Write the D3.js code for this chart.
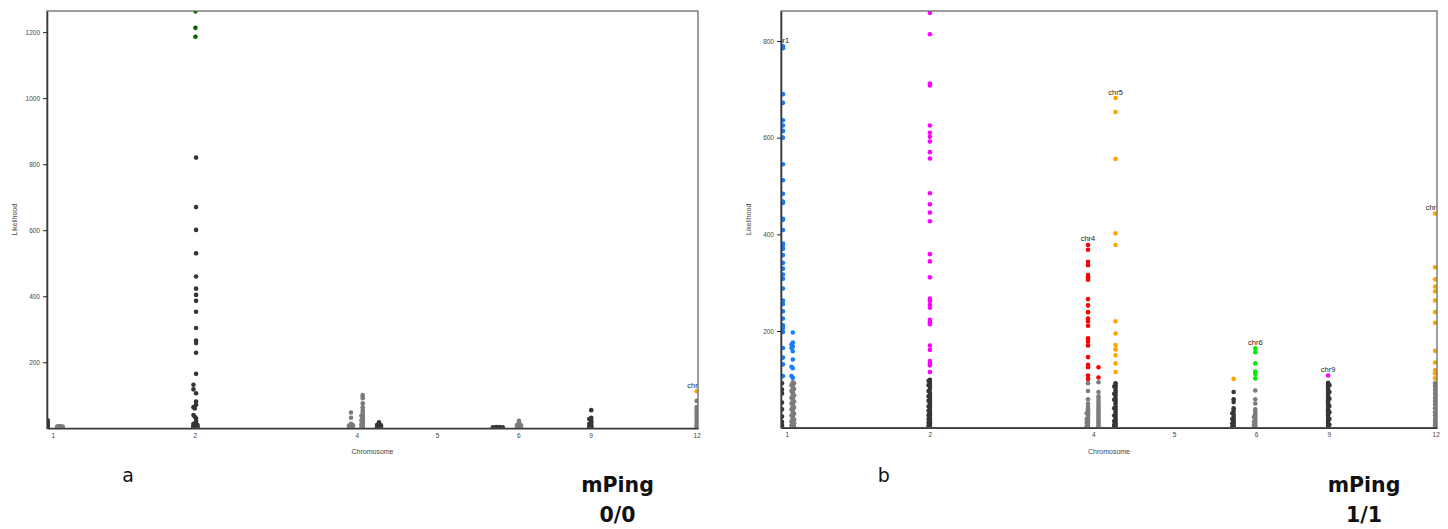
<!DOCTYPE html>
<html>
<head>
<meta charset="utf-8">
<script src="https://cdn.jsdelivr.net/npm/d3@7"></script>
<style>
  body { margin: 0; background: #fff; }
  svg { display: block; font-family: 'Liberation Sans', Arial, sans-serif; }
</style>
</head>
<body>
<svg id="chart" width="1448" height="529"></svg>
<script>
// Chromosome tick labels and their position along the genome axis (0-100)
const chromLabels = ['1', '2', '4', '5', '6', '9', '12'];
const chromTicks = [0.9, 22.7, 47.6, 59.9, 72.4, 83.5, 99.8];

// Each cluster: [genome position, [likelihood values]]
// Panel a - mPing 0/0
const aDark = [
  [0.1, [24, 18, 12, 8, 5, 3, 1, 0]],
  [22.9, [820, 670, 601, 530, 460, 423, 404, 386, 353, 304, 266, 258, 229, 165, 106, 81, 71, 30, 22, 15, 10, 6, 3, 1]],
  [22.5, [132, 118, 64, 40, 14, 8, 4, 2, 0]],
  [22.7, [60, 35, 12, 7, 3, 0]],
  [23.1, [10, 6, 3, 1]],
  [51.0, [18, 12, 8, 5, 2, 0]],
  [50.7, [10, 4, 1]],
  [51.3, [9, 3, 0]],
  [68.5, [3, 1]],
  [69.0, [4, 2, 0]],
  [69.5, [4, 1, 0]],
  [70.0, [3, 0]],
  [83.6, [55, 32, 25, 20, 16, 10, 6, 3, 0]],
  [83.3, [28, 14, 5, 1]],
];
const aLight = [
  [1.6, [6, 3, 1]],
  [2.0, [7, 4, 1]],
  [2.4, [5, 2, 0]],
  [46.7, [48, 32, 14, 10, 6, 3, 1]],
  [46.4, [8, 4, 1]],
  [47.0, [9, 4, 1]],
  [48.5, [101, 97, 91, 76, 64, 56, 50, 44, 40, 35, 30, 27, 22, 18, 14, 10, 6, 3, 1]],
  [48.3, [38, 24, 12, 4]],
  [72.5, [23, 18, 14, 10, 6, 3, 1]],
  [72.2, [10, 5, 1]],
  [72.8, [9, 4, 1]],
  [99.8, [83, 64, 58, 50, 44, 38, 32, 26, 20, 14, 9, 5, 2]],
];
const aGreen = [[22.8, [1263, 1213, 1186]]];
const aOrange = [[99.8, [112]]];
const aLabelText = ['chr12'];
const aLabelAt = [[99.8, 112]];

// Panel b - mPing 1/1
const bDark = [
  [0.15, [92, 79, 71, 52, 38, 23, 12, 5, 0]],
  [22.7, [99, 95, 91, 86, 80, 72, 68, 63, 58, 54, 50, 46, 42, 37, 33, 29, 25, 21, 17, 13, 9, 6, 3, 0]],
  [22.5, [97, 88, 76, 65, 56, 44, 35, 26, 18, 10, 4, 1]],
  [51.0, [92, 88, 83, 77, 72, 66, 60, 55, 50, 44, 38, 33, 28, 22, 17, 12, 8, 4, 1]],
  [50.8, [85, 70, 58, 40, 25, 14, 6, 2]],
  [69.0, [74, 59, 53, 40, 35, 28, 22, 17, 12, 8, 4, 1]],
  [68.8, [30, 18, 9, 3, 0]],
  [83.4, [93, 89, 85, 80, 76, 71, 66, 62, 57, 52, 48, 43, 38, 34, 29, 25, 20, 16, 12, 8, 4, 1]],
  [83.6, [88, 74, 60, 45, 32, 18, 6]],
];
const bLight = [
  [1.8, [94, 90, 86, 82, 78, 73, 69, 65, 61, 57, 52, 48, 44, 40, 35, 31, 27, 23, 19, 15, 11, 7, 3, 0]],
  [1.6, [88, 76, 62, 50, 38, 25, 13, 5]],
  [2.0, [92, 80, 67, 54, 42, 29, 17, 9, 2]],
  [46.8, [92, 76, 59, 50, 45, 40, 36, 32, 28, 24, 20, 16, 12, 8, 4, 1]],
  [46.6, [30, 18, 10, 3]],
  [48.4, [94, 74, 65, 60, 55, 50, 45, 41, 37, 33, 29, 25, 21, 17, 13, 9, 5, 2]],
  [72.3, [77, 59, 50, 38, 33, 28, 24, 20, 16, 12, 8, 4, 1]],
  [72.1, [22, 12, 5]],
  [99.7, [92, 86, 78, 70, 62, 55, 48, 40, 32, 25, 18, 12, 6, 2]],
];
const bBlue = [
  [0.3, [789, 785, 690, 672, 636, 625, 614, 600, 545, 512, 484, 468, 465, 432, 430, 409, 381, 377, 370, 357, 341, 329, 317, 308, 288, 263, 256, 241, 226, 212, 206, 198, 165, 145, 131, 107]],
  [1.8, [197, 176, 168, 158, 141, 123, 103]],
  [1.6, [172, 165, 126, 107]],
];
const bMagenta = [
  [22.7, [858, 814, 712, 708, 625, 610, 602, 592, 570, 557, 485, 462, 445, 427, 359, 344, 311, 267, 262, 255, 248, 223, 218, 214, 170, 161, 138, 134, 129, 115]],
  [83.4, [108]],
];
const bRed = [
  [46.8, [378, 368, 343, 336, 316, 311, 306, 266, 253, 239, 226, 220, 211, 185, 178, 170, 146, 130, 125, 108, 101]],
  [48.4, [125, 104]],
];
const bOrange = [
  [51.0, [682, 653, 556, 402, 378, 220, 195, 171, 162, 150, 133, 115]],
  [69.0, [101]],
  [99.7, [443, 332, 307, 292, 282, 263, 239, 217, 159, 135, 119, 112, 102]],
];
const bGreen = [[72.3, [164, 156, 133, 116, 111, 102]]];
const bLabelText = ['chr1', 'chr4', 'chr5', 'chr6', 'chr9', 'chr12'];
const bLabelAt = [[0.15, 789], [46.8, 378], [51.0, 682], [72.3, 164], [83.4, 108], [99.7, 443]];

const aTicks = [200, 400, 600, 800, 1000, 1200];
const bTicks = [200, 400, 600, 800];

const colors = {
  dark: '#353535',
  light: '#7c7c7c',
  green: '#006400',
  blue: '#1a7dff',
  magenta: '#ff00ff',
  red: '#ff0000',
  orange: '#ffa500',
  lime: '#00ee00',
};

const flatten = (clusters) => clusters.flatMap(([x, ys]) => ys.map((v) => ({ x, v })));

const svg = d3.select('#chart');

function drawPanel(p) {
  const g = svg.append('g');

  // Create scales
  const x = d3.scaleLinear().domain([0, 100]).range([p.left, p.right]);
  const y = d3.scaleLinear().domain([0, p.yMax]).range([p.bottom, p.top]);

  g.append('clipPath')
    .attr('id', `clip-${p.id}`)
    .append('rect')
    .attr('x', p.left)
    .attr('y', p.top)
    .attr('width', p.right - p.left)
    .attr('height', p.bottom - p.top);

  const plot = g.append('g').attr('clip-path', `url(#clip-${p.id})`);

  // Add points, grey first so coloured ones sit on top
  p.series.forEach((s) => {
    plot
      .selectAll(null)
      .data(flatten(s.data))
      .enter()
      .append('circle')
      .attr('cx', (d) => x(d.x))
      .attr('cy', (d) => y(d.v))
      .attr('r', 2.3)
      .style('fill', s.color);
  });

  // Chromosome labels above the top point of each peak
  plot
    .selectAll(null)
    .data(p.labelAt)
    .enter()
    .append('text')
    .attr('x', (d) => x(d[0]))
    .attr('y', (d) => y(d[1]) - 3.5)
    .attr('text-anchor', 'middle')
    .style('font-size', '7.5px')
    .style('fill', '#222')
    .text((d, i) => p.labelText[i]);

  // Frame
  g.append('rect')
    .attr('x', p.left)
    .attr('y', p.top)
    .attr('width', p.right - p.left)
    .attr('height', p.bottom - p.top)
    .style('fill', 'none')
    .style('stroke', '#6a6a6a')
    .style('stroke-width', 1.3);

  // Add axes
  const yAxis = d3
    .axisLeft(y)
    .tickValues(p.yTicks)
    .tickFormat(d3.format('d'))
    .tickSizeInner(4)
    .tickSizeOuter(0)
    .tickPadding(3);
  const ya = g.append('g').attr('transform', `translate(${p.left},0)`).call(yAxis);
  ya.select('.domain').style('stroke', '#3a3a3a').style('stroke-width', 1.6);
  ya.selectAll('.tick line').style('stroke', '#222');
  ya.selectAll('.tick text')
    .style('font-family', "'Liberation Sans', Arial, sans-serif")
    .style('font-size', '6.5px')
    .style('fill', '#444');

  const xAxis = d3
    .axisBottom(x)
    .tickValues(chromTicks)
    .tickFormat((d, i) => chromLabels[i])
    .tickSize(0)
    .tickPadding(5);
  const xa = g.append('g').attr('transform', `translate(0,${p.bottom})`).call(xAxis);
  xa.select('.domain').style('stroke', '#3a3a3a').style('stroke-width', 1.6);
  xa.selectAll('.tick text')
    .style('font-family', "'Liberation Sans', Arial, sans-serif")
    .style('font-size', '6.5px')
    .style('fill', '#444');

  // Axis titles
  g.append('text')
    .attr('transform', `translate(${p.left - 32},${(p.top + p.bottom) / 2}) rotate(-90)`)
    .attr('text-anchor', 'middle')
    .attr('dy', '0.35em')
    .style('font-size', '7px')
    .style('fill', '#444')
    .text('Likelihood');

  g.append('text')
    .attr('x', (p.left + p.right) / 2)
    .attr('y', 453.5)
    .attr('text-anchor', 'middle')
    .style('font-size', '7px')
    .style('fill', '#444')
    .text('Chromosome');

  // Panel letter and genotype caption
  g.append('text')
    .attr('x', p.letterX)
    .attr('y', 482)
    .attr('text-anchor', 'middle')
    .style('font-family', "'DejaVu Sans', sans-serif")
    .style('font-size', '19px')
    .style('fill', '#111')
    .text(p.letter);

  p.caption.forEach((line, i) => {
    g.append('text')
      .attr('x', p.captionX)
      .attr('y', 491.7 + i * 30)
      .attr('text-anchor', 'middle')
      .style('font-family', "'DejaVu Sans', sans-serif")
      .style('font-weight', 'bold')
      .style('font-size', '20.5px')
      .style('fill', '#111')
      .text(line);
  });
}

drawPanel({
  id: 'a',
  left: 47,
  right: 698,
  top: 11,
  bottom: 428.3,
  yMax: 1264,
  yTicks: aTicks,
  series: [
    { data: aLight, color: colors.light },
    { data: aDark, color: colors.dark },
    { data: aGreen, color: colors.green },
    { data: aOrange, color: colors.orange },
  ],
  labelText: aLabelText,
  labelAt: aLabelAt,
  letter: 'a',
  letterX: 128,
  caption: ['mPing', '0/0'],
  captionX: 617.5,
});

drawPanel({
  id: 'b',
  left: 781,
  right: 1437,
  top: 11,
  bottom: 427.7,
  yMax: 862,
  yTicks: bTicks,
  series: [
    { data: bLight, color: colors.light },
    { data: bDark, color: colors.dark },
    { data: bBlue, color: colors.blue },
    { data: bMagenta, color: colors.magenta },
    { data: bRed, color: colors.red },
    { data: bOrange, color: colors.orange },
    { data: bGreen, color: colors.lime },
  ],
  labelText: bLabelText,
  labelAt: bLabelAt,
  letter: 'b',
  letterX: 883.7,
  caption: ['mPing', '1/1'],
  captionX: 1364,
});
</script>
</body>
</html>
